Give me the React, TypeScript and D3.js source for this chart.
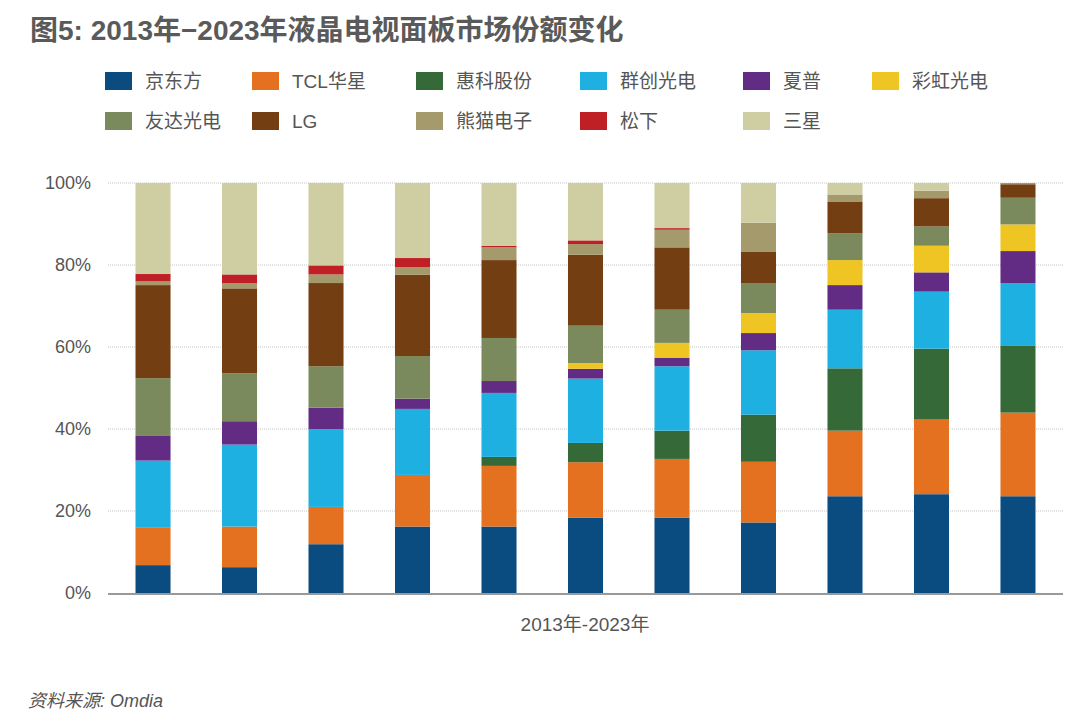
import { axisLeft, scaleBand, scaleLinear, select, stack, stackOffsetExpand } from 'd3'
import { useEffect, useRef } from 'react'

const WIDTH = 1080
const HEIGHT = 726
const MARGIN = { top: 183, right: 17, bottom: 133, left: 108 }

const years = ['2013', '2014', '2015', '2016', '2017', '2018', '2019', '2020', '2021', '2022', '2023']
const makers = ['京东方', 'TCL华星', '惠科股份', '群创光电', '夏普', '彩虹光电', '友达光电', 'LG', '熊猫电子', '松下', '三星']
const makerColors = ['#0b4c80', '#e37120', '#356a38', '#1eb0e0', '#622c84', '#efc523', '#7a8a5c', '#733f12', '#a59a6b', '#be2025', '#cfcda2']

// share in % per year, legend order
const boe = [6.8, 6.3, 11.9, 16.2, 16.2, 18.4, 18.4, 17.2, 23.6, 24.1, 23.6]
const tcl = [9.1, 9.9, 9.1, 12.6, 14.8, 13.5, 14.3, 14.8, 16.0, 18.2, 20.4]
const hkc = [0, 0, 0, 0, 2.2, 4.7, 6.9, 11.5, 15.2, 17.3, 16.4]
const innolux = [16.4, 20.0, 19.0, 16.1, 15.6, 15.7, 15.7, 15.7, 14.3, 13.9, 15.2]
const sharp = [6.0, 5.7, 5.2, 2.5, 2.9, 2.4, 2.1, 4.2, 6.0, 4.7, 7.8]
const rainbow = [0, 0, 0, 0, 0, 1.4, 3.6, 4.9, 6.1, 6.5, 6.5]
const auo = [14.1, 11.7, 10.1, 10.4, 10.5, 9.1, 8.1, 7.3, 6.5, 4.7, 6.5]
const lg = [22.7, 20.7, 20.3, 19.8, 19.0, 17.3, 15.2, 7.7, 7.8, 6.9, 3.3]
const panda = [0.9, 1.3, 2.1, 1.9, 3.1, 2.6, 4.3, 7.0, 1.7, 1.8, 0.3]
const panasonic = [1.8, 2.1, 2.2, 2.2, 0.4, 0.9, 0.4, 0, 0, 0, 0]
const samsung = [22.2, 22.3, 20.1, 18.3, 15.3, 14.0, 11.0, 9.7, 2.8, 1.9, 0]

const seriesValues = [boe, tcl, hkc, innolux, sharp, rainbow, auo, lg, panda, panasonic, samsung]
const yTicks = [0, 0.2, 0.4, 0.6, 0.8, 1]

const legendColumns = [105, 252, 416, 580, 743, 872]
const legendRows = [72, 112]

const FONT = '"Liberation Sans", "Noto Sans CJK SC", sans-serif'
const TEXT = '#555555'

export default function App() {
  const ref = useRef<SVGSVGElement>(null)

  useEffect(() => {
    document.body.style.margin = '0'
    const svg = select(ref.current)
    svg.selectAll('*').remove()

    const rows = years.map((year, i) => {
      const row: Record<string, number | string> = { year }
      makers.forEach((m, k) => {
        row[m] = seriesValues[k][i]
      })
      return row
    })

    const series = stack<Record<string, number | string>>()
      .keys(makers)
      .value((d, key) => d[key] as number)
      .offset(stackOffsetExpand)(rows)

    const x = scaleBand()
      .domain(years)
      .range([MARGIN.left, WIDTH - MARGIN.right])
      .paddingInner(0.595)
      .paddingOuter(0.318)
    const y = scaleLinear()
      .domain([0, 1])
      .range([HEIGHT - MARGIN.bottom, MARGIN.top])

    // title
    svg
      .append('text')
      .attr('x', 30)
      .attr('y', 40)
      .attr('font-family', FONT)
      .attr('font-size', 28)
      .attr('font-weight', 'bold')
      .attr('fill', '#5a5a5a')
      .text('图5: 2013年−2023年液晶电视面板市场份额变化')

    // legend
    const legend = svg.append('g')
    makers.forEach((m, i) => {
      const col = i < 6 ? i : i - 6
      const row = i < 6 ? 0 : 1
      const g = legend
        .append('g')
        .attr('transform', `translate(${legendColumns[col]},${legendRows[row]})`)
      g.append('rect').attr('width', 27).attr('height', 18).attr('fill', makerColors[i])
      g.append('text')
        .attr('x', 40)
        .attr('y', 9)
        .attr('dy', '0.36em')
        .attr('font-family', FONT)
        .attr('font-size', 19)
        .attr('fill', TEXT)
        .text(m)
    })

    // grid
    svg
      .append('g')
      .selectAll('line')
      .data(yTicks.filter((t) => t > 0))
      .join('line')
      .attr('x1', MARGIN.left)
      .attr('x2', WIDTH - MARGIN.right)
      .attr('y1', (d) => y(d))
      .attr('y2', (d) => y(d))
      .attr('stroke', '#c4c4c4')
      .attr('stroke-width', 1)
      .attr('stroke-dasharray', '1 1')

    // y axis labels
    const yAxis = svg
      .append('g')
      .attr('transform', `translate(${MARGIN.left - 17},0)`)
      .call(
        axisLeft(y)
          .tickValues(yTicks)
          .tickSize(0)
          .tickPadding(0)
          .tickFormat((d) => `${Math.round((d as number) * 100)}%`),
      )
    yAxis.select('.domain').remove()
    yAxis
      .selectAll('text')
      .attr('font-family', FONT)
      .attr('font-size', 18)
      .attr('fill', TEXT)

    // bars
    svg
      .append('g')
      .selectAll('g')
      .data(series)
      .join('g')
      .attr('fill', (_, i) => makerColors[i])
      .selectAll('rect')
      .data((d) => d)
      .join('rect')
      .attr('x', (d) => x(d.data.year as string) ?? 0)
      .attr('width', x.bandwidth())
      .attr('y', (d) => y(d[1]))
      .attr('height', (d) => Math.max(0, y(d[0]) - y(d[1])))

    // baseline
    svg
      .append('line')
      .attr('x1', MARGIN.left)
      .attr('x2', WIDTH - MARGIN.right)
      .attr('y1', y(0) + 1)
      .attr('y2', y(0) + 1)
      .attr('stroke', '#999999')
      .attr('stroke-width', 2)

    // x title
    svg
      .append('text')
      .attr('x', 585)
      .attr('y', 631)
      .attr('text-anchor', 'middle')
      .attr('font-family', FONT)
      .attr('font-size', 19)
      .attr('fill', TEXT)
      .text('2013年-2023年')

    // source
    svg
      .append('text')
      .attr('x', 28)
      .attr('y', 707)
      .attr('font-family', FONT)
      .attr('font-size', 18)
      .attr('font-style', 'italic')
      .attr('fill', TEXT)
      .text('资料来源: Omdia')
  }, [])

  return <svg ref={ref} width={WIDTH} height={HEIGHT} style={{ display: 'block', background: '#fff' }} />
}
